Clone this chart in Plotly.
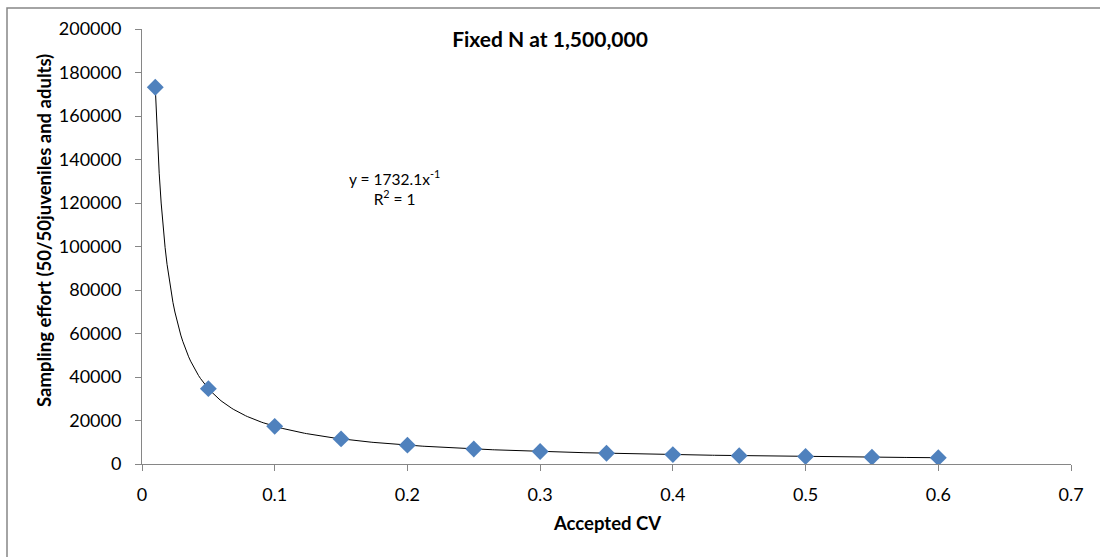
import numpy as np
import plotly.graph_objects as go

# Data
accepted_cv = [0.01, 0.05, 0.10, 0.15, 0.20, 0.25, 0.30, 0.35, 0.40, 0.45, 0.50, 0.55, 0.60]
sampling_effort = [173210, 34642, 17321, 11547, 8660, 6928, 5774, 4949, 4330, 3849, 3464, 3149, 2887]

x_ticks = [0, 0.1, 0.2, 0.3, 0.4, 0.5, 0.6, 0.7]
y_ticks = [0, 20000, 40000, 60000, 80000, 100000, 120000, 140000, 160000, 180000, 200000]

title_text = "Fixed N at 1,500,000"
x_title = "Accepted CV"
y_title = "Sampling effort (50/50juveniles and adults)"
eq_text = "y = 1732.1x<sup>-1</sup><br>R<sup>2</sup> = 1"

# Power trendline fitted to the data (as a spreadsheet would)
b, log_a = np.polyfit(np.log(accepted_cv), np.log(sampling_effort), 1)
a = np.exp(log_a)
trend_x = np.linspace(min(accepted_cv), max(accepted_cv), 400)
trend_y = a * trend_x ** b

FONT = "Lato"
L, R, T, B = 142, 29, 29, 93
PW, PH = 1100 - L - R, 557 - T - B

fig = go.Figure()
fig.add_trace(go.Scatter(
    x=trend_x, y=trend_y, mode="lines",
    line=dict(color="black", width=1), hoverinfo="skip", showlegend=False,
))
fig.add_trace(go.Scatter(
    x=accepted_cv, y=sampling_effort, mode="markers",
    marker=dict(symbol="diamond", size=13, color="#4f81bd", line=dict(width=0)),
    showlegend=False,
))

axis_common = dict(
    showgrid=False, zeroline=False, showline=True, linecolor="#868686", linewidth=1,
    ticks="outside", ticklen=6, tickcolor="#868686", tickwidth=1,
    tickfont=dict(family=FONT, size=18, color="black"),
)

fig.update_layout(
    width=1100, height=557,
    margin=dict(l=L, r=R, t=T, b=B),
    paper_bgcolor="white", plot_bgcolor="white",
    font=dict(family=FONT, color="black"),
    title=dict(text=f"<b>{title_text}</b>", x=0.5, xref="container", xanchor="center",
               y=1 - 40 / 557, yref="container", yanchor="middle",
               font=dict(family=FONT, size=21, color="black")),
    xaxis=dict(range=[0, 0.7], tickvals=x_ticks, ticktext=[f"{v:g}" for v in x_ticks],
               ticklabelstandoff=8, **axis_common),
    yaxis=dict(range=[0, 200000], tickvals=y_ticks, ticktext=[str(v) for v in y_ticks],
               ticklabelstandoff=10, **axis_common),
)

# Axis titles
fig.add_annotation(
    x=0.5, y=-(523 - 464) / PH, xref="paper", yref="paper", text=f"<b>{x_title}</b>",
    showarrow=False, xanchor="center", yanchor="middle",
    font=dict(family=FONT, size=18.5, color="black"),
)
fig.add_annotation(
    x=(44 - L) / PW, y=(464 - 231) / PH, xref="paper", yref="paper", text=f"<b>{y_title}</b>",
    showarrow=False, xanchor="center", yanchor="middle", textangle=-90,
    font=dict(family=FONT, size=18.5, color="black"),
)

# Trendline equation label
fig.add_annotation(
    x=0.19, y=127000, xref="x", yref="y", text=eq_text, showarrow=False,
    font=dict(family=FONT, size=15.5, color="black"), align="center",
)

# Outer chart border (left/top visible, right/bottom beyond the image)
fig.add_shape(type="rect", xref="paper", yref="paper",
              x0=(7 - L) / PW, x1=1.1, y0=-0.4, y1=1 + (T - 8) / PH,
              line=dict(color="#868686", width=1.5), fillcolor="rgba(0,0,0,0)", layer="below")

fig.write_html("out.html", config={"displayModeBar": False},
               post_script="document.body.style.margin='0';")
